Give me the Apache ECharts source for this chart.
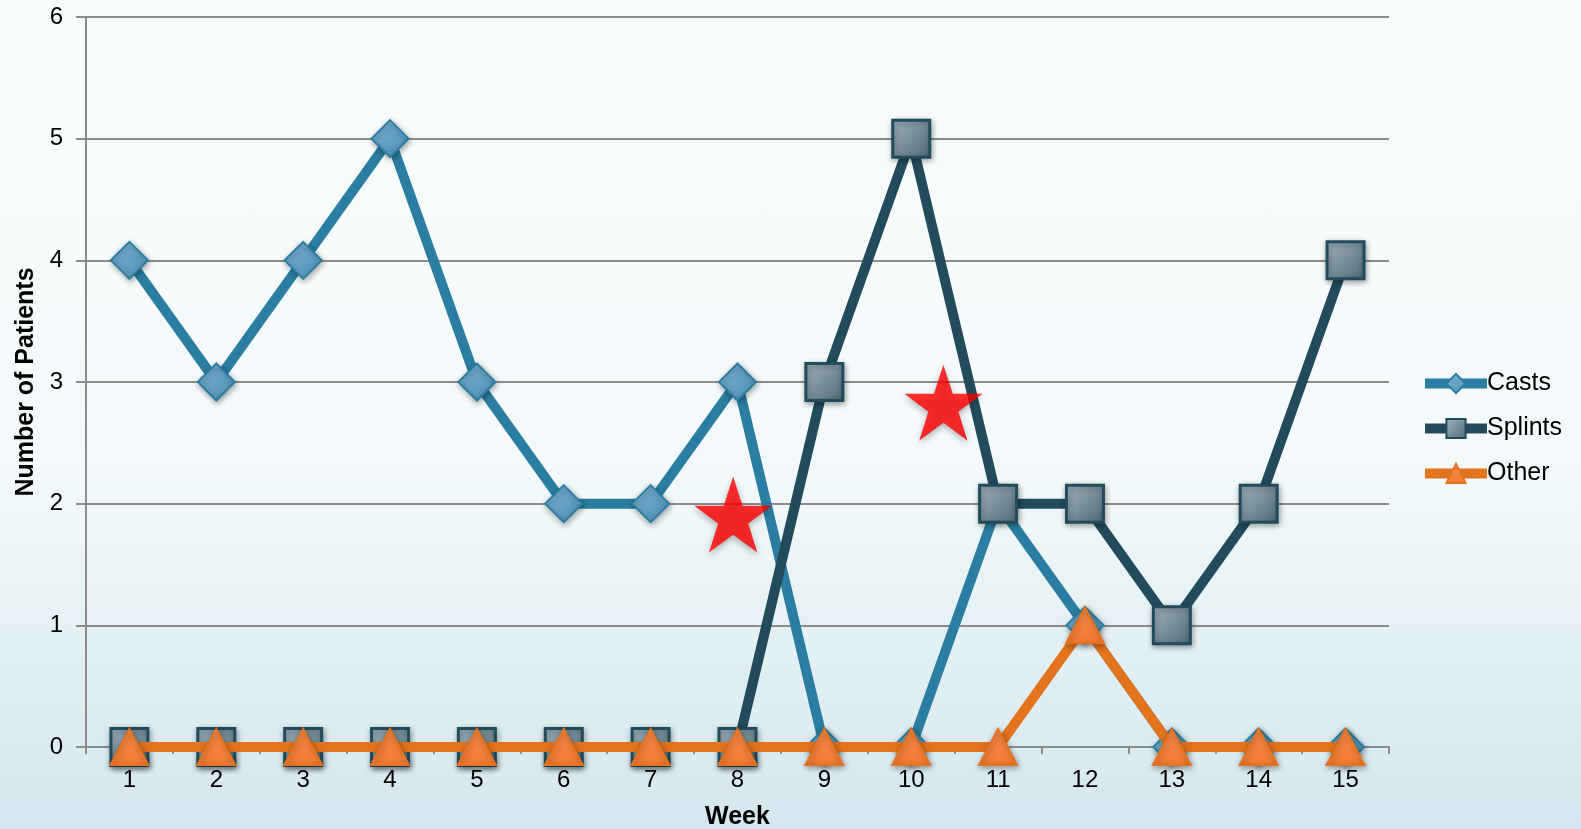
<!DOCTYPE html>
<html>
<head>
<meta charset="utf-8">
<script src="https://cdn.jsdelivr.net/npm/echarts@6/dist/echarts.min.js"></script>
<style>
html,body{margin:0;padding:0;}
#box{width:1581px;height:829px;background:linear-gradient(180deg,#f8fcfd 0%,#f4fafb 55%,#d3e7ee 100%);}
</style>
</head>
<body>
<div id="box"></div>
<script>
var weeks = ['1','2','3','4','5','6','7','8','9','10','11','12','13','14','15'];
var casts = [4,3,4,5,3,2,2,3,0,0,2,1,0,0,0];
var splints = [0,0,0,0,0,0,0,0,3,5,2,2,1,2,4];
var other = [0,0,0,0,0,0,0,0,0,0,0,1,0,0,0];
// star positions (week, patients)
var stars = [[7.95,1.91],[10.37,2.83]];

var starPath = 'path://M50,0 L61.8,35.1 L99,35.1 L68.9,56.8 L80.4,91.9 L50,70.2 L19.6,91.9 L31.1,56.8 L1,35.1 L38.2,35.1 Z';
var shadow = {shadowBlur:6, shadowColor:'rgba(0,0,0,0.35)', shadowOffsetX:1, shadowOffsetY:2};

var myChart = echarts.init(document.getElementById('box'));
var option = {
    backgroundColor:'transparent',
    textStyle:{fontFamily:'Liberation Sans, Arial, sans-serif'},
    grid:{left:86, top:17, right:192, bottom:82, outerBoundsMode:'none'},
    legend:{
        orient:'vertical',
        left:1415,
        top:366,
        itemWidth:62,
        itemHeight:24,
        itemGap:20,
        lineStyle:{width:10},
        textStyle:{fontSize:25, color:'#000', padding:[0,0,0,-5]},
        data:['Casts','Splints','Other']
    },
    xAxis:[{
        type:'category',
        data:weeks,
        name:'Week',
        nameLocation:'middle',
        nameGap:58,
        nameTextStyle:{fontSize:25, fontWeight:'bold', color:'#000'},
        axisLine:{lineStyle:{color:'#8c8c8c', width:2}},
        axisTick:{show:true, length:7, lineStyle:{color:'#8c8c8c', width:2}},
        axisLabel:{fontSize:24, color:'#000', margin:21}
    },{
        type:'value',
        min:0.5,
        max:15.5,
        show:false
    }],
    yAxis:{
        type:'value',
        min:0,
        max:6,
        interval:1,
        name:'Number of Patients',
        nameLocation:'middle',
        nameGap:46,
        nameTextStyle:{fontSize:25, fontWeight:'bold', color:'#000'},
        axisLine:{show:true, lineStyle:{color:'#8c8c8c', width:2}},
        axisTick:{show:true, length:10, lineStyle:{color:'#8c8c8c', width:2}},
        axisLabel:{fontSize:24, color:'#000', margin:23},
        splitLine:{lineStyle:{color:'#8c8c8c', width:2}}
    },
    series:[
        {
            name:'Casts',
            type:'line',
            data:casts,
            symbol:'diamond',
            symbolSize:[37,37],
            lineStyle:{color:'#2b7ea1', width:10},
            itemStyle:Object.assign({
                color:new echarts.graphic.LinearGradient(0,0,1,1,[{offset:0,color:'#7fb3d2'},{offset:1,color:'#4a8fb6'}]),
                borderColor:'#2b7ea1', borderWidth:2
            }, shadow),
            z:2
        },
        {
            name:'Splints',
            type:'line',
            data:splints,
            symbol:'rect',
            symbolSize:37,
            lineStyle:{color:'#224b5c', width:10},
            itemStyle:Object.assign({
                color:new echarts.graphic.LinearGradient(0,0,1,1,[{offset:0,color:'#a3b6bf'},{offset:1,color:'#4d6875'}]),
                borderColor:'#224b5c', borderWidth:3
            }, shadow),
            z:3
        },
        {
            name:'Other',
            type:'line',
            data:other,
            symbol:'triangle',
            symbolSize:[38,36],
            lineStyle:{color:'#e4731e', width:10},
            itemStyle:Object.assign({
                color:new echarts.graphic.LinearGradient(0,0,0,1,[{offset:0,color:'#fb8c4a'},{offset:1,color:'#f47a30'}]),
                borderColor:'#e4731e', borderWidth:2
            }, shadow),
            z:4
        },
        {
            name:'stars',
            type:'scatter',
            xAxisIndex:1,
            data:stars,
            symbol:starPath,
            symbolSize:[78,76],
            itemStyle:{color:'#ff0000', shadowBlur:6, shadowColor:'rgba(0,0,0,0.35)', shadowOffsetY:3},
            silent:true,
            z:5
        }
    ]
};
myChart.setOption(option);
</script>
</body>
</html>
